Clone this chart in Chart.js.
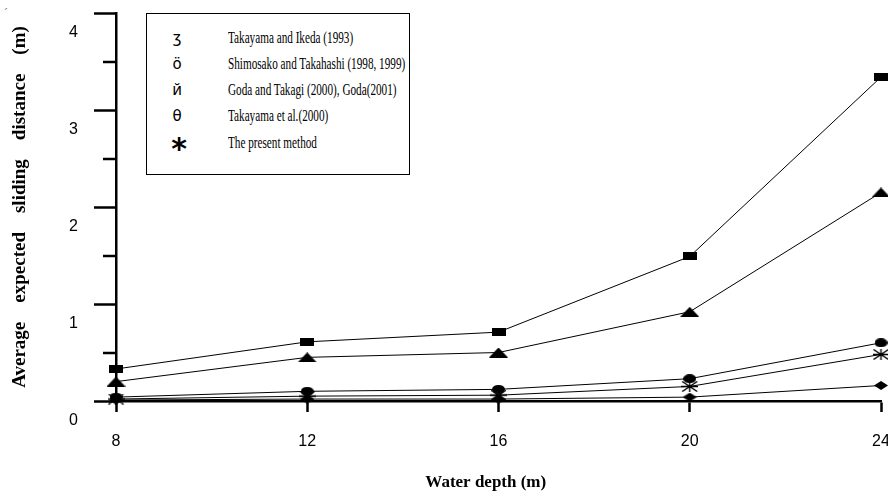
<!DOCTYPE html>
<html>
<head>
<meta charset="utf-8">
<script src="https://cdn.jsdelivr.net/npm/chart.js@4/dist/chart.umd.min.js"></script>
<style>
  html, body { margin: 0; padding: 0; background: #fff; overflow: hidden; }
  #wrap { position: relative; width: 888px; height: 500px; }
  #legend {
    position: absolute; left: 146px; top: 13px; width: 264px; height: 162px;
    border: 1.5px solid #000; background: #fff; box-sizing: border-box;
    font-family: 'Liberation Serif', serif; font-size: 16px; color: #000;
  }
  .row { position: absolute; left: 0; height: 24px; line-height: 24px; white-space: nowrap; }
  .sym { position: absolute; left: 20px; width: 20px; text-align: center; font-family: 'DejaVu Sans', sans-serif; font-size: 15px; }
  .txt { position: absolute; left: 81px; transform: scaleX(0.70); transform-origin: 0 50%; }
  #mark { position: absolute; left: 4px; top: 6px; font-family: 'Liberation Sans', sans-serif; font-size: 14px; color: #888; }
</style>
</head>
<body>
<div id="wrap">
  <canvas id="c" width="888" height="500"></canvas>
  <div id="mark">´</div>
  <div id="legend"></div>
</div>
<script>
// ---- data ----
const depths = [8, 12, 16, 20, 24];
const takayamaIkeda = [0.33, 0.61, 0.71, 1.49, 3.34];
const shimosakoTakahashi = [0.20, 0.45, 0.50, 0.92, 2.15];
const godaTakagi = [0.04, 0.10, 0.12, 0.23, 0.60];
const takayamaEtAl = [0.01, 0.02, 0.02, 0.04, 0.16];
const presentMethod = [0.02, 0.05, 0.06, 0.15, 0.48];
const seriesNames = [
  'Takayama and Ikeda (1993)',
  'Shimosako and Takahashi (1998, 1999)',
  'Goda and Takagi (2000), Goda(2001)',
  'Takayama et al.(2000)',
  'The present method'
];
const legendSymbols = ['ʒ', 'ö', 'й', 'θ', '*'];
const yTickLabels = ['0', '1', '2', '3', '4'];

// ---- marker images ----
function mk(w, h, draw) {
  const c = document.createElement('canvas');
  c.width = w; c.height = h;
  const g = c.getContext('2d');
  g.fillStyle = '#000'; g.strokeStyle = '#000';
  draw(g, w, h);
  return c;
}
const mRect = mk(14, 8, (g, w, h) => g.fillRect(0, 0, w, h));
const mTri = mk(19, 10, (g, w, h) => { g.beginPath(); g.moveTo(w / 2, 0); g.lineTo(w, h); g.lineTo(0, h); g.closePath(); g.fill(); });
const mCirc = mk(13, 9, (g, w, h) => { g.beginPath(); g.ellipse(w / 2, h / 2, w / 2, h / 2, 0, 0, Math.PI * 2); g.fill(); });
const mDiam = mk(14, 9, (g, w, h) => { g.beginPath(); g.moveTo(w / 2, 0); g.lineTo(w, h / 2); g.lineTo(w / 2, h); g.lineTo(0, h / 2); g.closePath(); g.fill(); });
const mStar = mk(17, 11, (g, w, h) => {
  g.lineWidth = 1.4; g.beginPath();
  g.moveTo(0, h / 2); g.lineTo(w, h / 2);
  g.moveTo(1, 0.5); g.lineTo(w - 1, h - 0.5);
  g.moveTo(w - 1, 0.5); g.lineTo(1, h - 0.5);
  g.moveTo(w / 2, 0); g.lineTo(w / 2, h);
  g.stroke();
});

// ---- legend (HTML) ----
const legend = document.getElementById('legend');
const rowTops = [12, 38, 64, 90, 117];
seriesNames.forEach((name, i) => {
  const r = document.createElement('div');
  r.className = 'row';
  r.style.top = rowTops[i] + 'px';
  const s = document.createElement('span');
  s.className = 'sym';
  s.textContent = legendSymbols[i];
  if (legendSymbols[i] === '*') { s.style.fontSize = '30px'; s.style.fontWeight = 'bold'; s.style.top = '6px'; s.style.left = '22px'; }
  const t = document.createElement('span');
  t.className = 'txt';
  t.textContent = name;
  r.appendChild(s); r.appendChild(t);
  legend.appendChild(r);
});

function ds(label, vals, img) {
  return {
    label,
    data: depths.map((x, i) => ({ x, y: vals[i] })),
    borderColor: '#000', borderWidth: 1, backgroundColor: '#000',
    pointStyle: img, pointRadius: 6, tension: 0, clip: false
  };
}

const minorTicks = {
  id: 'minorTicks',
  afterDraw(chart) {
    const s = chart.scales.y, g = chart.ctx;
    g.save();
    g.strokeStyle = '#000'; g.lineWidth = 2.5;
    for (let v = 0.5; v < 4; v += 1) {
      const y = Math.round(s.getPixelForValue(v));
      g.beginPath(); g.moveTo(s.right - 13, y); g.lineTo(s.right, y); g.stroke();
    }
    g.restore();
  }
};

new Chart(document.getElementById('c'), {
  type: 'line',
  data: {
    datasets: [
      ds(seriesNames[0], takayamaIkeda, mRect),
      ds(seriesNames[1], shimosakoTakahashi, mTri),
      ds(seriesNames[2], godaTakagi, mCirc),
      ds(seriesNames[3], takayamaEtAl, mDiam),
      ds(seriesNames[4], presentMethod, mStar)
    ]
  },
  options: {
    responsive: false, animation: false, devicePixelRatio: 1,
    layout: { padding: { top: 13, right: 5, left: 0, bottom: 0 } },
    plugins: { legend: { display: false }, tooltip: { enabled: false } },
    scales: {
      x: {
        type: 'linear', min: 8, max: 24,
        ticks: { stepSize: 4, color: '#000', padding: 20, maxRotation: 0,
                 font: { family: 'Liberation Sans', size: 16 } },
        grid: { drawOnChartArea: false, tickLength: 11, tickWidth: 2.5, tickColor: '#000' },
        border: { color: '#000', width: 2.5 },
        title: { display: true, text: 'Water depth (m)      ', color: '#000',
                 font: { family: 'Liberation Serif', size: 17, weight: 'bold' },
                 padding: { top: 0, bottom: 7 } },
        afterFit(s) { s.height = 99; s.paddingLeft = 0; s.paddingRight = 0; }
      },
      y: {
        min: 0, max: 4,
        ticks: { stepSize: 0.5, color: '#000', padding: 16, labelOffset: 20,
                 callback: v => Number.isInteger(v) ? yTickLabels[v] : '',
                 font: { family: 'Liberation Sans', size: 16 } },
        grid: { drawOnChartArea: false, tickLength: 22, tickWidth: 2.5,
                tickColor: c => (c.tick && Number.isInteger(c.tick.value)) ? '#000' : 'rgba(0,0,0,0)' },
        border: { color: '#000', width: 2.5 },
        title: { display: true, text: 'Average    expected    sliding    distance    (m)', color: '#000',
                 font: { family: 'Liberation Serif', size: 19, weight: 'bold' },
                 padding: { top: 9, bottom: 0 } },
        afterFit(s) { s.width = 116; s.paddingTop = 0; s.paddingBottom = 0; }
      }
    }
  },
  plugins: [minorTicks]
});
</script>
</body>
</html>
